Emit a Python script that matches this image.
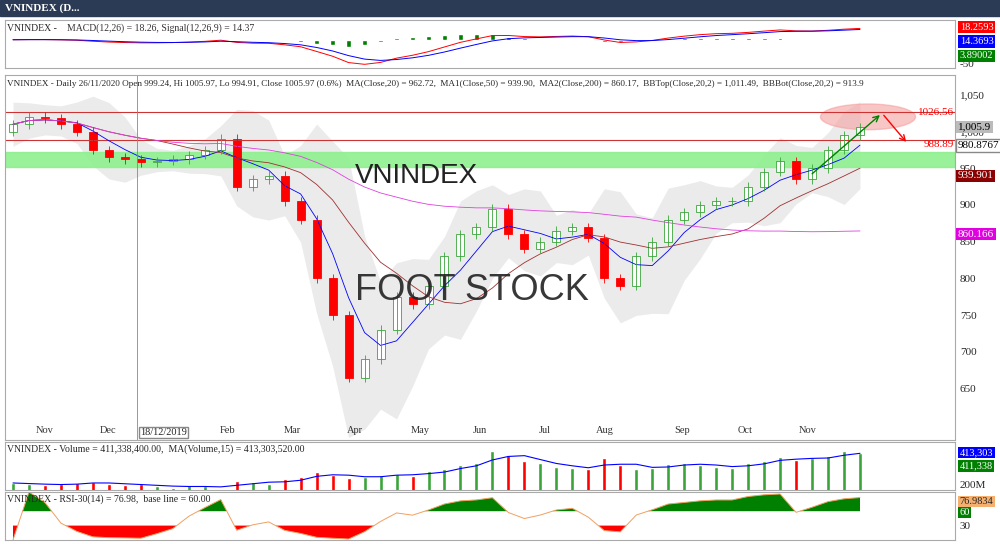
import numpy as np, pandas as pd, matplotlib
matplotlib.use("Agg")
import matplotlib.pyplot as plt, seaborn as sns
from matplotlib.patches import Ellipse, Rectangle

closes = [1010,1020, 1018,1010,1000,975, 965,962,958,960, 962,968,975,990,
          925,935,940,905, 880,800,750,665, 690,730,775,765, 790,830,860,870,
          895,860,840,850, 865,870,855,800, 790,830,850,880, 890,900,905,905,
          925,945,960,935, 950,975,995,1006]
volumes = [210,200, 190,200,210,220, 200,190,200,180, 170,190,180,160,
           230,220,200,240, 260,300,280,250, 260,280,290,270, 310,330,360,380,
           480,450,400,380, 350,340,330,420, 360,330,340,370, 380,360,350,340,
           380,400,430,410, 420,440,480,470]
months = ["Nov","Dec","Feb","Mar","Apr","May","Jun","Jul","Aug","Sep","Oct","Nov"]
month_px = [45,108,228,292,355,420,480,545,605,682,745,808]

sns.set_style("white")
plt.rcParams['font.family'] = ['Liberation Serif', 'DejaVu Serif']
c = pd.Series(closes, dtype=float)
o = c.shift(1).fillna(c.iloc[0] - 10)
n = len(c); x = np.arange(n)
ppw = (860-5)/(n-0.5)
def px2x(p): return (p-5)/ppw - 0.5
month_pos = [px2x(p) for p in month_px]
ma20 = c.rolling(4, min_periods=1).mean(); ma50 = c.rolling(10, min_periods=1).mean()
ma200 = c.rolling(40, min_periods=1).mean()
sd = c.rolling(4, min_periods=1).std().fillna(10)
bbt, bbb = ma20 + 2*sd + 10, ma20 - 2*sd - 10
macd = c.ewm(span=6).mean() - c.ewm(span=13).mean(); sig = macd.ewm(span=4).mean()
d = c.diff().fillna(0)
rsi = 100 - 100/(1 + d.clip(lower=0).ewm(span=6).mean()/(-d.clip(upper=0)).ewm(span=6).mean().replace(0, 1e-9))

fig = plt.figure(figsize=(10, 5.44), dpi=100)
fig.patch.set_facecolor("white")
fig.add_artist(Rectangle((0, 1-16/544), 1, 16/544, color="#2b3a55", transform=fig.transFigure))
fig.text(0.005, 1-8/544, "VNINDEX (D...", color="white", fontsize=8, va="center", weight="bold")
xl = (-0.5, -0.5 + 950/ppw)
L, W = 0.005, 0.95
axm = fig.add_axes([L, 1-68/544, W, 48/544]); axp = fig.add_axes([L, 1-440/544, W, 365/544])
axv = fig.add_axes([L, 1-490/544, W, 48/544]); axr = fig.add_axes([L, 1-540/544, W, 48/544])
for a in (axm, axp, axv, axr):
    a.set_xlim(*xl); a.set_xticks([]); a.yaxis.tick_right(); a.tick_params(labelsize=8, length=0)
    for s in a.spines.values(): s.set_color("#aaaaaa")

# MACD
h = macd - sig
axm.bar(x, h, color="green", width=0.3)
sns.lineplot(x=x, y=macd, ax=axm, color="red", lw=0.7); sns.lineplot(x=x, y=sig, ax=axm, color="blue", lw=0.7)
lim = max(abs(macd.min()), abs(macd.max())) * 1.15
axm.set_ylim(-lim, lim*0.7); axm.set_yticks([-lim*0.85]); axm.set_yticklabels(["-50"]); axm.set_ylabel("")
axm.text(0.002, 0.92, "VNINDEX - ", transform=axm.transAxes, fontsize=7, va="top")
axm.text(0.065, 0.92, "MACD(12,26) = 18.26, Signal(12,26,9) = 14.37", transform=axm.transAxes, fontsize=7, va="top", color="#333333")
for yy, t, col in [(0.85, "18.2593", "red"), (0.55, "14.3693", "blue"), (0.25, "3.89002", "green")]:
    axm.text(1.005, yy, t, transform=axm.transAxes, fontsize=7.5, color="white", va="center",
             bbox=dict(fc=col, ec="none", pad=1.2))

# Price
axp.set_ylim(580, 1077); axp.set_yticks([650,700,750,800,850,900,950,1000,1050])
axp.set_yticklabels(["650","700","750","800","850","900","950","1,000","1,050"])
axp.fill_between(x, bbb, bbt, color="#d8d8d8", alpha=0.5, lw=0)
axp.axhspan(952, 972, color="#8ef08e", alpha=0.9)
axp.axhline(1026.5, color="#cc3333", lw=0.8); axp.axhline(989, color="#cc3333", lw=0.8)
axp.add_patch(Ellipse((px2x(868), 1020), 95/ppw, 35, color="#f5a0a0", alpha=0.6))
sns.lineplot(x=x, y=ma20, ax=axp, color="blue", lw=0.6)
sns.lineplot(x=x, y=ma50, ax=axp, color="#a03030", lw=0.6)
sns.lineplot(x=x, y=ma200, ax=axp, color="#e040e0", lw=0.6)
for i in range(n):
    up = c[i] >= o[i]; col = "#3aa53a" if up else "red"
    lo, hi = min(c[i], o[i]), max(c[i], o[i])
    axp.vlines(i, lo-6, hi+6, color=col, lw=0.6)
    axp.add_patch(Rectangle((i-0.25, lo), 0.5, max(hi-lo, 1), fc="white" if up else "red", ec=col, lw=0.6))
axp.annotate("", xy=(px2x(882), 1025), xytext=(px2x(810), 940), arrowprops=dict(arrowstyle="->", color="green"))
axp.annotate("", xy=(px2x(908), 983), xytext=(px2x(882), 1025), arrowprops=dict(arrowstyle="->", color="red"))
axp.text(0.999, (1026.5-580)/497, "1026.56", transform=axp.transAxes, color="red", fontsize=8, va="center", ha="right")
axp.text(0.999, (989-580)/497, "988.89", transform=axp.transAxes, color="red", fontsize=8, va="top", ha="right")
axp.text(px2x(355), 930, "VNINDEX", fontsize=20, family="Liberation Sans", color="#222222")
axp.text(px2x(355), 770, "FOOT STOCK", fontsize=26, family="Liberation Sans", color="#222222", alpha=0.9)
axp.text(0.002, 0.985, "VNINDEX - Daily 26/11/2020 Open 999.24, Hi 1005.97, Lo 994.91, Close 1005.97 (0.6%)  "
         "MA(Close,20) = 962.72,  MA1(Close,50) = 939.90,  MA2(Close,200) = 860.17,  BBTop(Close,20,2) = 1,011.49,  "
         "BBBot(Close,20,2) = 913.9", transform=axp.transAxes, fontsize=6.6, va="top")
for mp, m in zip(month_pos, months):
    axp.text(mp, 590, m, fontsize=7.5, ha="center", color="#333333")
vx = px2x(137)
axp.axvline(vx, color="#888888", lw=0.6)
axp.text(vx + 0.2, 587, "18/12/2019", fontsize=7.5, ha="left", bbox=dict(fc="white", ec="#888888", pad=1))
for yy, t, fc, tc, xx in [(1005.9, "1,005.9", "#bbbbbb", "black", 1.003), (980.9, "980.8767", "white", "black", 1.003),
                          (939.9, "939.901", "#8b0000", "white", 1.003), (860.2, "860.166", "#e000e0", "white", 1.003)]:
    axp.text(xx, (yy-580)/497, t, transform=axp.transAxes, fontsize=8, color=tc, va="center",
             bbox=dict(fc=fc, ec="#888888" if fc == "white" else "none", pad=1.2), zorder=5)

# Volume
axv.bar(x, volumes, color=["#3aa53a" if c[i] >= o[i] else "red" for i in range(n)], width=0.25)
sns.lineplot(x=x, y=pd.Series(volumes).rolling(3, min_periods=1).mean(), ax=axv, color="blue", lw=0.8)
axv.set_ylim(150, 560); axv.set_yticks([200]); axv.set_yticklabels(["200M"]); axv.set_ylabel("")
axv.text(0.002, 0.95, "VNINDEX - Volume = 411,338,400.00,  MA(Volume,15) = 413,303,520.00", transform=axv.transAxes, fontsize=7, va="top")
axv.text(1.005, 0.78, "413,303", transform=axv.transAxes, fontsize=7.5, color="white", va="center", bbox=dict(fc="blue", ec="none", pad=1))
axv.text(1.005, 0.5, "411,338", transform=axv.transAxes, fontsize=7.5, color="white", va="center", bbox=dict(fc="green", ec="none", pad=1))

# RSI
axr.set_ylim(0, 100)
axr.fill_between(x, 60, rsi, where=rsi >= 60, color="green", interpolate=True, lw=0)
axr.fill_between(x, 30, rsi, where=rsi < 30, color="red", interpolate=True, lw=0)
sns.lineplot(x=x, y=rsi, ax=axr, color="#f0a060", lw=0.7)
axr.set_yticks([30]); axr.set_ylabel("")
axr.text(0.002, 0.95, "VNINDEX - RSI-30(14) = 76.98,  base line = 60.00", transform=axr.transAxes, fontsize=7, va="top")
axr.text(1.005, 0.8, "76.9834", transform=axr.transAxes, fontsize=7.5, va="center", bbox=dict(fc="#f5b070", ec="none", pad=1))
axr.text(1.005, 0.57, "60", transform=axr.transAxes, fontsize=7.5, color="white", va="center", bbox=dict(fc="green", ec="none", pad=1))

fig.savefig("out.png", dpi=100)
